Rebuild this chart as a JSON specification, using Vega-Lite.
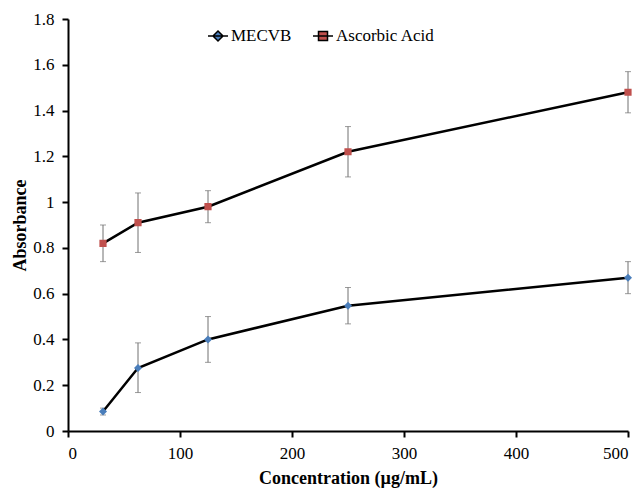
{
  "$schema": "https://vega.github.io/schema/vega-lite/v6.json",
  "width": 560,
  "height": 412,
  "autosize": "none",
  "padding": {"left": 68, "top": 19, "right": 16, "bottom": 58},
  "background": "white",
  "config": {
    "view": {"stroke": null},
    "font": "Liberation Serif",
    "style": {
      "guide-label": {"font": "Liberation Serif", "fontSize": 17, "fill": "black"},
      "guide-title": {"font": "Liberation Serif", "fontSize": 18, "fill": "black"}
    },
    "axis": {
      "labelFont": "Liberation Serif",
      "labelFontSize": 17,
      "labelColor": "black",
      "titleFont": "Liberation Serif",
      "titleFontSize": 18,
      "titleColor": "black"
    },
    "legend": {
      "labelFont": "Liberation Serif",
      "labelFontSize": 17,
      "labelColor": "black"
    }
  },
  "data": {
    "values": [
      {"series": "MECVB", "conc": 31.25, "abs": 0.085, "lo": 0.07, "hi": 0.10},
      {"series": "MECVB", "conc": 62.5, "abs": 0.275, "lo": 0.168, "hi": 0.385},
      {"series": "MECVB", "conc": 125, "abs": 0.40, "lo": 0.30, "hi": 0.50},
      {"series": "MECVB", "conc": 250, "abs": 0.547, "lo": 0.468, "hi": 0.627},
      {"series": "MECVB", "conc": 500, "abs": 0.67, "lo": 0.60, "hi": 0.74},
      {"series": "Ascorbic Acid", "conc": 31.25, "abs": 0.82, "lo": 0.74, "hi": 0.90},
      {"series": "Ascorbic Acid", "conc": 62.5, "abs": 0.91, "lo": 0.78, "hi": 1.04},
      {"series": "Ascorbic Acid", "conc": 125, "abs": 0.98, "lo": 0.91, "hi": 1.05},
      {"series": "Ascorbic Acid", "conc": 250, "abs": 1.22, "lo": 1.11, "hi": 1.33},
      {"series": "Ascorbic Acid", "conc": 500, "abs": 1.48, "lo": 1.39, "hi": 1.57}
    ]
  },
  "encoding": {
    "x": {
      "field": "conc",
      "type": "quantitative",
      "scale": {"domain": [0, 500], "nice": false},
      "axis": {
        "values": [0, 100, 200, 300, 400, 500],
        "title": "Concentration (µg/mL)",
        "titlePadding": 8,
        "grid": false,
        "domainColor": "black",
        "domainWidth": 2,
        "tickColor": "black",
        "tickWidth": 2,
        "tickSize": 6,
        "labelFont": "Liberation Serif",
        "labelFontSize": 17,
        "labelColor": "black",
        "labelPadding": 8,
        "titleFont": "Liberation Serif",
        "titleFontSize": 18,
        "titleFontWeight": "bold",
        "titleColor": "black"
      }
    }
  },
  "layer": [
    {
      "mark": {"type": "rule", "color": "#707070", "strokeWidth": 1},
      "encoding": {
        "y": {
          "field": "lo",
          "type": "quantitative",
          "scale": {"domain": [0, 1.8], "nice": false},
          "axis": {
            "values": [0, 0.2, 0.4, 0.6, 0.8, 1, 1.2, 1.4, 1.6, 1.8],
            "format": "~g",
            "title": "Absorbance",
            "titlePadding": 3,
            "grid": false,
            "domainColor": "black",
            "domainWidth": 2,
            "tickColor": "black",
            "tickWidth": 2,
            "tickSize": 6,
            "labelFont": "Liberation Serif",
            "labelFontSize": 17,
            "labelColor": "black",
            "labelPadding": 8,
            "titleFont": "Liberation Serif",
            "titleFontSize": 18,
            "titleFontWeight": "bold",
            "titleColor": "black"
          }
        },
        "y2": {"field": "hi"},
        "detail": {"field": "series"}
      }
    },
    {
      "mark": {"type": "tick", "color": "#707070", "orient": "horizontal", "size": 6, "thickness": 1},
      "encoding": {"y": {"field": "lo", "type": "quantitative"}}
    },
    {
      "mark": {"type": "tick", "color": "#707070", "orient": "horizontal", "size": 6, "thickness": 1},
      "encoding": {"y": {"field": "hi", "type": "quantitative"}}
    },
    {
      "mark": {"type": "line", "color": "black", "strokeWidth": 2.5},
      "encoding": {
        "y": {"field": "abs", "type": "quantitative"},
        "detail": {"field": "series"}
      }
    },
    {
      "mark": {"type": "point", "filled": true, "opacity": 1, "size": 256, "strokeWidth": 0},
      "encoding": {
        "y": {"field": "abs", "type": "quantitative"},
        "color": {
          "field": "series",
          "type": "nominal",
          "scale": {"domain": ["MECVB", "Ascorbic Acid"], "range": ["#4a7ebb", "#c0504d"]},
          "legend": {
            "title": null,
            "orient": "none",
            "direction": "horizontal",
            "legendX": 139,
            "legendY": 6,
            "symbolSize": 400,
            "symbolStrokeColor": "black",
            "symbolStrokeWidth": 1.5,
            "labelFont": "Liberation Serif",
            "labelFontSize": 17,
            "labelColor": "black",
            "labelLimit": 200,
            "columnPadding": 18,
            "labelOffset": 2
          }
        },
        "shape": {
          "field": "series",
          "type": "nominal",
          "scale": {
            "domain": ["MECVB", "Ascorbic Acid"],
            "range": [
              "M-1,0L1,0M0,-0.5L0.5,0L0,0.5L-0.5,0Z",
              "M-1,0L1,0M-0.45,-0.45L0.45,-0.45L0.45,0.45L-0.45,0.45Z"
            ]
          },
          "legend": {
            "title": null,
            "orient": "none",
            "direction": "horizontal",
            "legendX": 139,
            "legendY": 6,
            "symbolSize": 400,
            "symbolStrokeColor": "black",
            "symbolStrokeWidth": 1.5,
            "labelFont": "Liberation Serif",
            "labelFontSize": 17,
            "labelColor": "black",
            "labelLimit": 200,
            "columnPadding": 18,
            "labelOffset": 2
          }
        }
      }
    }
  ]
}
